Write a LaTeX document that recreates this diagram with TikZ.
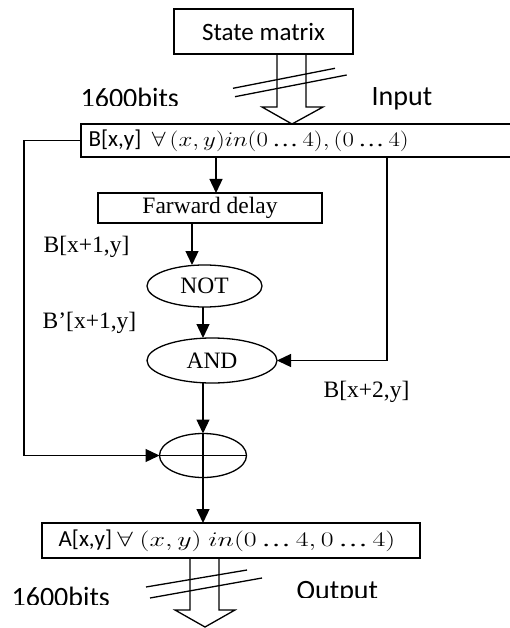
\documentclass[tikz,border=0pt]{standalone}
\usepackage{fontspec}
\usepackage{graphicx}
\newfontfamily\carl{Carlito}
\newfontfamily\tms{Liberation Serif}
\newcommand\wfit[2]{\resizebox{#1}{\height}{#2}}
\newcommand\eld{\mathord{\hbox{\tms …}}}
\usetikzlibrary{arrows.meta,shapes.geometric}
\begin{document}
\begin{tikzpicture}[x=1pt,y=-1pt,line width=1.3pt,
  box/.style={draw,rectangle,inner sep=0pt,outer sep=0pt},
  ell/.style={draw,ellipse,inner sep=0pt,outer sep=0pt},
  arr/.style={-{Triangle[length=14pt,width=13pt]}},
  lbl/.style={font=\tms\fontsize{23.5}{26}\selectfont,inner sep=0pt},
  big/.style={font=\carl\fontsize{28}{32}\selectfont,inner sep=0pt},
  mid/.style={font=\carl\fontsize{23}{26}\selectfont,inner sep=0pt}]
\useasboundingbox (0,0) rectangle (509,628);
% boxes
\node[box,minimum width=179pt,minimum height=45pt,font=\carl\fontsize{25}{30}\selectfont] (SM) at (263.5,31.5) {State matrix};
\node[box,minimum width=434pt,minimum height=33pt] (B) at (298,140.5) {};
\node[mid,anchor=west] (Btxt) at (88,140.5) {B[x,y]\ \ \wfit{257pt}{\fontsize{22}{26}\selectfont$\forall\,(x,y)in(0\,\eld\,4),(0\,\eld\,4)$}};
\node[box,minimum width=224pt,minimum height=30pt,lbl] (delay) at (210,208) {Farward delay};
\node[ell,minimum width=115pt,minimum height=42pt,lbl] (NOT) at (204.5,286) {NOT};
\node[ell,minimum width=130pt,minimum height=45pt,lbl] (AND) at (212,360.5) {AND};
\node[ell,minimum width=87pt,minimum height=44pt] (XOR) at (203,455.5) {};
\node[box,minimum width=378pt,minimum height=35pt] (A) at (231,540.5) {};
\node[mid,anchor=west] (Atxt) at (58,540.5) {A[x,y]\ \wfit{278pt}{\fontsize{22}{26}\selectfont$\forall\ (x,y)\ in(0\,\eld\,4,0\,\eld\,4)$}};
% labels
\node[lbl] (l1) at (86.5,247) {B[x+1,y]};
\node[lbl] (l2) at (89.5,323) {B’[x+1,y]};
\node[lbl] (l3) at (366.5,392) {B[x+2,y]};
\node[big,anchor=base west] (inp) at (371,106) {Input};
\begin{scope}
\clip (0,70) rectangle (250,105.5);
\node[big,anchor=base west] (bits1) at (80,108) {1600bits};
\end{scope}
\begin{scope}
\clip (0,570) rectangle (509,604);
\node[big,anchor=base west] (bits2) at (11,606.5) {1600bits};
\end{scope}
\begin{scope}
\clip (280,570) rectangle (509,597);
\node[big,anchor=base west] (outp) at (296,599.5) {Output};
\end{scope}
% coordinates for connector columns
\coordinate (bx) at (216,0);
\coordinate (dx) at (192,0);
\coordinate (rx) at (387,0);
\coordinate (lx) at (24,0);
% input hollow arrow
\coordinate (h1) at (277,0);
\coordinate (h2) at (306,0);
\draw (SM.south -| h1) -- (277,107) -- (262,107) -- (B.north -| 292,0) -- (323,107) -- (306,107) -- (SM.south -| h2);
\draw (233,88.3) -- (335,68.3);
\draw (235,96.7) -- (346.7,75);
% output hollow arrow
\coordinate (o1) at (190,0);
\coordinate (o2) at (219,0);
\draw (A.south -| o1) -- (190,610) -- (175,610) -- (205,627) -- (235,610) -- (219,610) -- (A.south -| o2);
\draw (146,587) -- (247,570);
\draw (150,598) -- (262,578);
% connectors
\draw[arr] (B.south -| bx) -- (delay.north -| bx);
\draw[arr] (delay.south -| dx) -- (NOT.north -| dx);
\draw[arr] (NOT.south -| XOR.north) -- (AND.north -| XOR.north);
\draw[arr] (AND.south -| XOR.north) -- (XOR.north);
\draw[arr] (B.south -| rx) |- (AND.east);
\draw[arr] (B.west) -- (B.west -| lx) |- (XOR.west);
\draw (XOR.north) -- (XOR.south);
\draw (XOR.west) -- (XOR.east);
\draw[arr] (XOR.south) -- (A.north -| XOR.south);
\end{tikzpicture}
\end{document}
